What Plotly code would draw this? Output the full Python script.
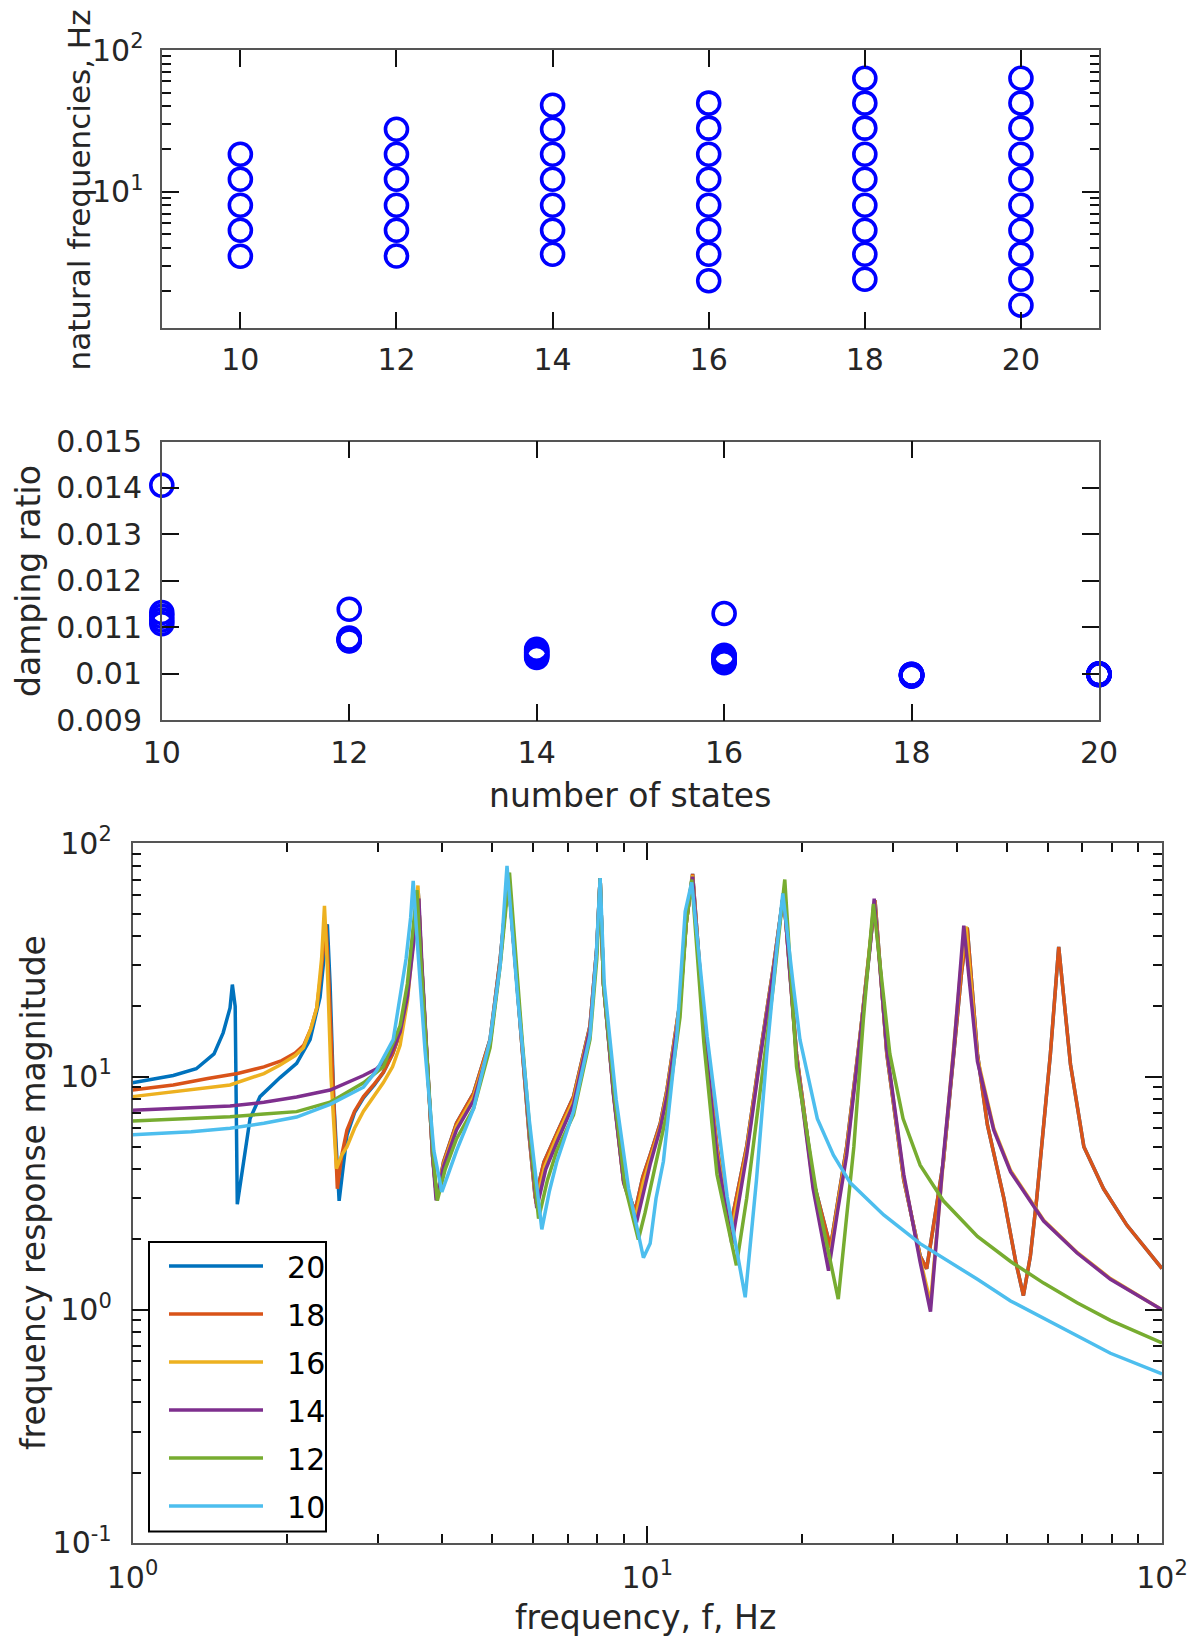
import plotly.graph_objects as go

# ---------------- data ----------------
states = [10, 12, 14, 16, 18, 20]

# natural frequencies (Hz) for each model size
nat_10 = [3.50, 5.35, 8.02, 12.25, 18.4]
nat_12 = [3.52, 5.35, 8.02, 12.25, 18.4, 27.6]
nat_14 = [3.62, 5.35, 8.02, 12.25, 18.4, 27.6, 40.7]
nat_16 = [2.35, 3.62, 5.35, 8.02, 12.25, 18.4, 28.1, 42.2]
nat_18 = [2.41, 3.62, 5.35, 8.02, 12.25, 18.4, 28.1, 42.2, 63.2]
nat_20 = [1.58, 2.41, 3.62, 5.35, 8.02, 12.25, 18.4, 28.1, 42.2, 63.2]

# damping ratios for each model size
damp_10 = [0.01406, 0.01132, 0.01124, 0.01116, 0.01108]
damp_12 = [0.01139, 0.01077, 0.01075, 0.01074, 0.01072, 0.01071]
damp_14 = [0.01053, 0.01050, 0.01047, 0.01044, 0.01041, 0.01038, 0.01035]
damp_16 = [0.01130, 0.01040, 0.01037, 0.01035, 0.01032, 0.01029, 0.01027, 0.01024]
damp_18 = [0.00999, 0.00999, 0.00998, 0.00998, 0.00997, 0.00997, 0.00996, 0.00996, 0.00995]
damp_20 = [0.01000, 0.01000, 0.01000, 0.00999, 0.00999, 0.00999, 0.00999, 0.00999, 0.00998, 0.00998]

# frequency response magnitude: (frequency Hz, magnitude)
frf_20 = [(1.00, 9.4), (1.20, 10.1), (1.33, 10.8), (1.44, 12.5), (1.50, 15.4), (1.547, 19.7), (1.563, 24.8),
          (1.583, 20), (1.598, 2.83),
          (1.642, 4.33), (1.692, 6.6), (1.769, 8.2), (1.935, 9.9), (2.084, 11.4), (2.213, 14.4), (2.314, 21.9),
          (2.366, 36), (2.391, 45),
          (2.42, 25), (2.46, 8), (2.52, 2.93),
          (2.57, 4.3), (2.61, 5.6), (2.70, 7.0), (2.81, 8.1), (2.95, 9.2), (3.07, 10.4), (3.20, 12.5), (3.31, 15.4),
          (3.42, 23), (3.50, 36), (3.56, 52), (3.59, 62),
          (3.64, 32), (3.74, 11), (3.83, 4.5), (3.90, 3.0),
          (4.02, 4.3), (4.26, 6.3), (4.60, 8.5), (4.95, 14.4), (5.18, 32), (5.37, 72),
          (5.70, 14), (5.90, 5.5), (6.06, 3.0),
          (6.30, 4.3), (6.67, 5.7), (7.19, 8.2), (7.74, 16.5), (7.98, 36), (8.10, 71),
          (8.22, 25), (8.60, 8.5), (8.99, 3.6), (9.47, 2.64),
          (9.80, 3.7), (10.13, 4.6), (10.6, 6.3), (10.92, 8.75), (11.58, 21), (11.90, 45), (12.25, 74),
          (12.88, 17), (13.66, 5.0), (14.5, 2.25),
          (15.0, 3.3), (15.6, 5.0), (16.57, 12.5), (17.6, 30), (18.4, 61),
          (19.5, 12.5), (21.0, 3.6), (22.7, 1.85),
          (23.5, 3.0), (24.4, 5.0), (25.9, 14.9), (27.1, 36), (27.7, 57),
          (29.2, 12.5), (31.5, 3.6), (33.9, 1.7), (34.9, 1.5),
          (36.2, 2.5), (37.6, 4.3), (39.4, 12.5), (40.8, 28), (41.85, 43.5),
          (43.8, 12.5), (45.8, 6.2), (49.3, 3.0), (52.0, 1.6), (53.8, 1.15),
          (55.5, 1.7), (57.1, 3.0), (60.7, 12.5), (62.0, 24), (63.0, 36),
          (66.4, 11.3), (70.5, 5.0), (77.0, 3.3), (85.5, 2.3), (100, 1.5)]

frf_18 = [(1.00, 8.75), (1.20, 9.2), (1.40, 9.8), (1.60, 10.3), (1.80, 11.0), (1.95, 11.7), (2.07, 12.6),
          (2.15, 13.6), (2.22, 16.0), (2.28, 19.7), (2.32, 27), (2.35, 35), (2.375, 45),
          (2.40, 30), (2.44, 12), (2.47, 5.5), (2.50, 3.3),
          (2.55, 4.6), (2.61, 5.9), (2.70, 7.1), (2.81, 8.2), (2.95, 9.3), (3.07, 10.4), (3.20, 12.5), (3.31, 15.4),
          (3.42, 23), (3.50, 36), (3.56, 52), (3.59, 62),
          (3.64, 32), (3.74, 11), (3.83, 4.5), (3.90, 3.0),
          (4.02, 4.3), (4.26, 6.3), (4.60, 8.5), (4.95, 14.4), (5.18, 32), (5.37, 72),
          (5.70, 14), (5.90, 5.5), (6.06, 3.0),
          (6.30, 4.3), (6.67, 5.7), (7.19, 8.2), (7.74, 16.5), (7.98, 36), (8.10, 71),
          (8.22, 25), (8.60, 8.5), (8.99, 3.6), (9.47, 2.64),
          (9.80, 3.7), (10.13, 4.6), (10.6, 6.3), (10.92, 8.75), (11.58, 21), (11.90, 45), (12.25, 74),
          (12.88, 17), (13.66, 5.0), (14.5, 2.25),
          (15.0, 3.3), (15.6, 5.0), (16.57, 12.5), (17.6, 30), (18.4, 61),
          (19.5, 12.5), (21.0, 3.6), (22.7, 1.85),
          (23.5, 3.0), (24.4, 5.0), (25.9, 14.9), (27.1, 36), (27.7, 57),
          (29.2, 12.5), (31.5, 3.6), (33.9, 1.7), (34.9, 1.5),
          (36.2, 2.5), (37.6, 4.3), (39.4, 12.5), (40.8, 28), (41.85, 43.5),
          (43.8, 12.5), (45.8, 6.2), (49.3, 3.0), (52.0, 1.6), (53.8, 1.15),
          (55.5, 1.7), (57.1, 3.0), (60.7, 12.5), (62.0, 24), (63.0, 36),
          (66.4, 11.3), (70.5, 5.0), (77.0, 3.3), (85.5, 2.3), (100, 1.5)]

frf_16 = [(1.00, 8.2), (1.20, 8.6), (1.40, 9.0), (1.547, 9.2), (1.80, 10.3), (1.935, 11.2), (2.07, 12.3),
          (2.148, 13.3), (2.22, 16), (2.28, 19.7), (2.33, 32), (2.36, 54),
          (2.39, 30), (2.43, 10), (2.49, 4.03),
          (2.55, 4.6), (2.61, 5.0), (2.70, 6.0), (2.81, 7.1), (3.07, 9.4), (3.20, 11.0), (3.31, 13.6),
          (3.42, 21), (3.50, 34), (3.56, 52), (3.585, 66),
          (3.64, 32), (3.74, 11), (3.83, 4.5), (3.90, 3.0),
          (4.02, 4.2), (4.26, 6.1), (4.60, 8.2), (4.95, 14.0), (5.18, 31), (5.37, 72),
          (5.70, 14), (5.91, 5.4), (6.08, 2.85),
          (6.32, 4.1), (6.67, 5.5), (7.19, 7.9), (7.74, 16.2), (7.98, 35), (8.10, 71),
          (8.22, 25), (8.60, 8.4), (9.0, 3.5), (9.50, 2.5),
          (9.82, 3.5), (10.13, 4.4), (10.6, 6.1), (10.92, 8.5), (11.58, 20.5), (11.90, 45), (12.25, 73),
          (12.88, 16.5), (13.66, 4.8), (14.55, 2.1),
          (15.05, 3.1), (15.6, 4.8), (16.57, 12.2), (17.6, 29.5), (18.4, 61),
          (19.5, 12.2), (21.0, 3.4), (22.6, 1.65),
          (23.45, 2.8), (24.4, 4.8), (25.9, 14.7), (27.1, 36), (27.65, 57),
          (29.2, 12.8), (31.5, 3.7), (33.9, 1.65), (35.5, 1.07),
          (36.5, 2.1), (37.6, 4.4), (39.4, 12.8), (40.6, 28), (41.6, 44),
          (43.8, 12), (47.1, 6.0), (50.8, 3.95), (58.9, 2.42), (68.4, 1.76), (79.4, 1.36), (100, 1.0)]

frf_14 = [(1.00, 7.16), (1.30, 7.35), (1.547, 7.47), (1.80, 7.75), (2.084, 8.17), (2.42, 8.75), (2.81, 10.1),
          (2.98, 10.8), (3.165, 12.3), (3.31, 15.5), (3.42, 22), (3.50, 34), (3.56, 48), (3.60, 58),
          (3.65, 30), (3.74, 11), (3.83, 4.5), (3.89, 2.94),
          (4.02, 4.1), (4.26, 5.9), (4.60, 7.9), (4.95, 13.8), (5.18, 31), (5.37, 72),
          (5.70, 14), (5.92, 5.3), (6.10, 2.73),
          (6.35, 4.0), (6.67, 5.2), (7.19, 7.6), (7.74, 16), (7.98, 35), (8.10, 71),
          (8.22, 25), (8.60, 8.3), (9.0, 3.5), (9.53, 2.37),
          (9.85, 3.3), (10.13, 4.2), (10.6, 6.0), (10.92, 8.2), (11.58, 20), (11.9, 46), (12.25, 72),
          (12.88, 16), (13.66, 4.6), (14.6, 1.92),
          (15.1, 3.0), (15.6, 4.6), (16.57, 12), (17.6, 29), (18.4, 61),
          (19.5, 12), (21.0, 3.3), (22.5, 1.47),
          (23.4, 2.6), (24.4, 4.6), (25.9, 14.5), (27.1, 36), (27.6, 58),
          (29.2, 13), (31.5, 3.8), (33.9, 1.6), (35.5, 0.98),
          (36.5, 2.0), (37.6, 4.5), (39.4, 13), (40.5, 28), (41.2, 44.4),
          (43.8, 11.6), (47.1, 5.9), (50.8, 3.9), (58.9, 2.4), (68.4, 1.75), (79.4, 1.35), (100, 1.0)]

frf_12 = [(1.00, 6.44), (1.30, 6.6), (1.547, 6.73), (1.80, 6.9), (2.084, 7.07), (2.42, 7.76), (2.81, 9.4),
          (3.07, 11), (3.31, 16.5), (3.42, 25), (3.50, 40), (3.57, 63),
          (3.63, 32), (3.74, 11), (3.84, 4.5), (3.91, 2.94),
          (4.05, 4.0), (4.26, 5.4), (4.60, 7.3), (4.95, 13.3), (5.18, 30), (5.40, 75),
          (5.72, 14), (5.95, 5.0), (6.15, 2.46),
          (6.40, 3.6), (6.67, 4.8), (7.19, 6.85), (7.74, 14.4), (7.98, 32), (8.10, 71),
          (8.22, 25), (8.65, 8), (9.05, 3.4), (9.61, 2.0),
          (9.9, 2.6), (10.13, 3.26), (10.6, 5.2), (10.92, 7.0), (11.58, 18), (11.9, 45), (12.2, 70),
          (12.88, 14), (13.66, 3.8), (14.9, 1.55),
          (15.6, 3.0), (16.57, 8.7), (17.6, 25), (18.5, 70),
          (19.5, 11), (21.4, 3.0), (23.5, 1.11),
          (24.3, 2.3), (25.2, 5.0), (26.3, 17.7), (27.5, 55),
          (29.6, 12.5), (31.4, 6.6), (33.9, 4.17), (37.6, 2.93), (43.8, 2.06), (50.8, 1.61), (58.9, 1.30),
          (68.4, 1.07), (79.4, 0.90), (100, 0.72)]

frf_10 = [(1.00, 5.63), (1.30, 5.8), (1.547, 6.0), (1.80, 6.3), (2.084, 6.7), (2.42, 7.6), (2.81, 9.0),
          (2.98, 10.6), (3.21, 14.4), (3.31, 21.5), (3.40, 32), (3.47, 48), (3.51, 69),
          (3.58, 36), (3.70, 13), (3.85, 4.8), (3.99, 3.2),
          (4.12, 3.9), (4.26, 4.8), (4.60, 7.3), (4.95, 14.4), (5.18, 30), (5.34, 80),
          (5.60, 22), (5.90, 6.5), (6.24, 2.21),
          (6.45, 3.2), (6.67, 4.3), (7.19, 7.1), (7.74, 15), (7.96, 33), (8.10, 71),
          (8.25, 25), (8.70, 8), (9.2, 3.3), (9.83, 1.67),
          (10.13, 1.92), (10.4, 3.0), (10.75, 4.33), (11.41, 14.9), (11.85, 51), (12.2, 68),
          (13.07, 14.9), (14.3, 3.04), (15.5, 1.13),
          (16.3, 3.6), (17.07, 12.5), (17.86, 36), (18.34, 61),
          (19.2, 25), (19.8, 14.4), (21.4, 6.6), (23.0, 4.6), (24.8, 3.5), (28.8, 2.55), (33.9, 1.92),
          (37.6, 1.67), (43.8, 1.35), (50.8, 1.09), (58.9, 0.92), (68.4, 0.77), (79.4, 0.65), (100, 0.53)]

frf_labels = ["20", "18", "16", "14", "12", "10"]
frf_colors = ["#0072BD", "#D95319", "#EDB120", "#7E2F8E", "#77AC30", "#4DBEEE"]

# ---------------- figure ----------------
W, H = 1198, 1637
FONT = "DejaVu Sans"
TXT = "#262626"
TICK_SIZE = 30
LABEL_SIZE = 33


def fx(px):
    return px / W


def fy(py):
    return 1 - py / H


fig = go.Figure()

nat_all = [nat_10, nat_12, nat_14, nat_16, nat_18, nat_20]
damp_all = [damp_10, damp_12, damp_14, damp_16, damp_18, damp_20]

xs, ys = [], []
for n, vals in zip(states, nat_all):
    xs += [n] * len(vals)
    ys += vals
fig.add_trace(go.Scatter(x=xs, y=ys, mode="markers", xaxis="x", yaxis="y", showlegend=False,
                         cliponaxis=False,
                         marker=dict(symbol="circle-open", size=22, color="#0000FF",
                                     line=dict(width=3.6, color="#0000FF"))))

xs, ys = [], []
for n, vals in zip(states, damp_all):
    xs += [n] * len(vals)
    ys += vals
fig.add_trace(go.Scatter(x=xs, y=ys, mode="markers", xaxis="x2", yaxis="y2", showlegend=False,
                         cliponaxis=False,
                         marker=dict(symbol="circle-open", size=22, color="#0000FF",
                                     line=dict(width=3.6, color="#0000FF"))))

NBSP = "\u00a0"
for lab, col, pts in zip(frf_labels, frf_colors, [frf_20, frf_18, frf_16, frf_14, frf_12, frf_10]):
    fig.add_trace(go.Scatter(x=[p[0] for p in pts], y=[p[1] for p in pts], mode="lines",
                             xaxis="x3", yaxis="y3", name=NBSP * 2 + lab, legendgroup=lab,
                             line=dict(color=col, width=3.5)))

common = dict(showline=True, linecolor="#555555", linewidth=1.5, mirror="ticks",
              ticks="inside", ticklen=17, tickwidth=2, tickcolor="#111111",
              showgrid=False, zeroline=False, automargin=False,
              tickfont=dict(family=FONT, size=TICK_SIZE, color=TXT))

minor_log = dict(ticks="inside", ticklen=9, tickwidth=1.6, tickcolor="#111111", showgrid=False)


def dec_minor(lo, hi):
    out = []
    e = lo
    while e < hi:
        out += [m * 10 ** e for m in range(2, 10)]
        e += 1
    return out


def sup(e):
    return "10<sup>%d</sup>" % e


fig.update_layout(
    width=W, height=H, margin=dict(l=0, r=0, t=0, b=0, autoexpand=False),
    paper_bgcolor="white", plot_bgcolor="white",
    font=dict(family=FONT, color=TXT),
    xaxis=dict(domain=[fx(162.3), fx(1099)], anchor="y", range=[9, 21],
               tickvals=[10, 12, 14, 16, 18, 20], ticklabelstandoff=4, **common),
    yaxis=dict(domain=[fy(328.3), fy(50)], anchor="x", type="log", range=[0.036, 2],
               tickvals=[1, 10, 100], ticktext=[sup(0), sup(1), sup(2)],
               minor=dict(tickvals=dec_minor(0, 2), **minor_log), ticklabelstandoff=11, **common),
    xaxis2=dict(domain=[fx(161.8), fx(1099)], anchor="y2", range=[10, 20],
                tickvals=[10, 12, 14, 16, 18, 20], ticklabelstandoff=5, **common),
    yaxis2=dict(domain=[fy(720.3), fy(441.5)], anchor="x2", range=[0.009, 0.015],
                tickvals=[0.009, 0.010, 0.011, 0.012, 0.013, 0.014, 0.015],
                ticktext=["0.009", "0.01", "0.011", "0.012", "0.013", "0.014", "0.015"],
                ticklabelstandoff=12, **common),
    xaxis3=dict(domain=[fx(132.5), fx(1162)], anchor="y3", type="log", range=[0, 2],
                tickvals=[1, 10, 100], ticktext=[sup(0), sup(1), sup(2)],
                minor=dict(tickvals=dec_minor(0, 2), **minor_log), ticklabelstandoff=7, **common),
    yaxis3=dict(domain=[fy(1542.8), fy(843.4)], anchor="x3", type="log", range=[-1, 2],
                tickvals=[0.1, 1, 10, 100], ticktext=[sup(-1), sup(0), sup(1), sup(2)],
                minor=dict(tickvals=dec_minor(-1, 2), **minor_log), ticklabelstandoff=13, **common),
    legend=dict(x=fx(164), y=fy(1240), xanchor="left", yanchor="top",
                bgcolor="rgba(0,0,0,0)", borderwidth=0,
                font=dict(family=FONT, size=30, color="black"),
                itemwidth=94, tracegroupgap=6),
    showlegend=True,
    shapes=[dict(type="rect", xref="paper", yref="paper",
                 x0=fx(149), x1=fx(326), y0=fy(1531.5), y1=fy(1242),
                 line=dict(color="black", width=2), fillcolor="white", layer="above")],
)

annots = [
    ("natural frequencies, Hz", 78.5, 190, -90, 31),
    ("damping ratio", 29, 581, -90, LABEL_SIZE),
    ("number of states", 630, 795, 0, LABEL_SIZE),
    ("frequency response magnitude", 33, 1193, -90, LABEL_SIZE),
    ("frequency, f, Hz", 645, 1617, 0, LABEL_SIZE),
]
for text, px, py, ang, size in annots:
    fig.add_annotation(text=text, x=fx(px), y=fy(py), xref="paper", yref="paper",
                       showarrow=False, textangle=ang, xanchor="center", yanchor="middle",
                       font=dict(family=FONT, size=size, color=TXT))

fig.write_html("out.html", config={"displayModeBar": False},
               post_script="document.body.style.margin='0';")
